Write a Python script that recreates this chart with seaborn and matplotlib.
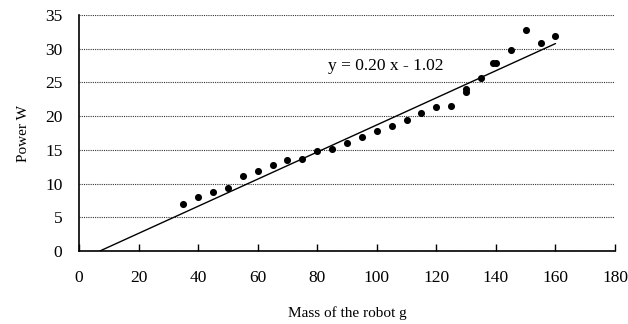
import matplotlib
matplotlib.use("Agg")
import matplotlib.pyplot as plt
import seaborn as sns
import pandas as pd

mass = [35, 40, 45, 50, 55, 60, 65, 70, 75, 80, 85, 90, 95, 100, 105, 110,
        115, 120, 125, 130, 130, 135, 139, 140, 145, 150, 155, 160]
power = [7.0, 8.0, 8.75, 9.3, 11.05, 11.8, 12.8, 13.5, 13.7, 14.8, 15.2, 15.95,
         16.9, 17.8, 18.55, 19.4, 20.4, 21.35, 21.5, 23.65, 24.0, 25.6, 27.9,
         27.9, 29.8, 32.75, 30.8, 31.95]
trend_x = [7.0, 160.0]
trend_y = [0.0, 30.76]
equation = "y = 0.20 x - 1.02"
x_ticks = [0, 20, 40, 60, 80, 100, 120, 140, 160, 180]
y_ticks = [0, 5, 10, 15, 20, 25, 30, 35]

sns.set_theme(style="white")
plt.rcParams["font.family"] = ["Liberation Serif", "DejaVu Serif"]

fig = plt.figure(figsize=(6.28, 3.24), dpi=100)
ax = fig.add_axes([0.1258, 0.2253, 0.8535, 0.7284])

df = pd.DataFrame({"mass": mass, "power": power})
sns.scatterplot(data=df, x="mass", y="power", ax=ax, color="black",
                s=26, edgecolor="black", linewidth=0, zorder=3)
sns.lineplot(x=trend_x, y=trend_y, ax=ax, color="black", linewidth=1.0,
             zorder=2)

ax.set_xlim(0, 180)
ax.set_ylim(0, 35)
ax.set_xticks(x_ticks)
ax.set_yticks(y_ticks)
ax.set_xticklabels([str(t) for t in x_ticks], fontsize=12.5)
ax.set_yticklabels([str(t) for t in y_ticks], fontsize=12.5)
ax.tick_params(axis="x", direction="in", length=5, width=1, color="black",
               pad=14, bottom=True)
ax.tick_params(axis="y", length=0, pad=12)
for lab in ax.get_xticklabels() + ax.get_yticklabels():
    lab.set_color("black")

ax.yaxis.grid(True, color="#333333", linestyle=(0, (1, 1)), linewidth=0.8)
ax.xaxis.grid(False)
ax.set_axisbelow(True)

for side in ["top", "right"]:
    ax.spines[side].set_visible(False)
for side in ["left", "bottom"]:
    ax.spines[side].set_color("black")
    ax.spines[side].set_linewidth(1.2)

ax.set_xlabel("Mass of the robot g", fontsize=11, color="black")
ax.set_ylabel("Power W", fontsize=11, color="black")
ax.xaxis.set_label_coords(0.5, -0.264)
ax.yaxis.set_label_coords(-0.103, 0.5)
ax.xaxis.label.set_va("center")
ax.yaxis.label.set_va("center")

ax.text(83.5, 27.4, equation, fontsize=12.5, color="black", va="center",
        ha="left")

fig.savefig("out.png", dpi=100)
